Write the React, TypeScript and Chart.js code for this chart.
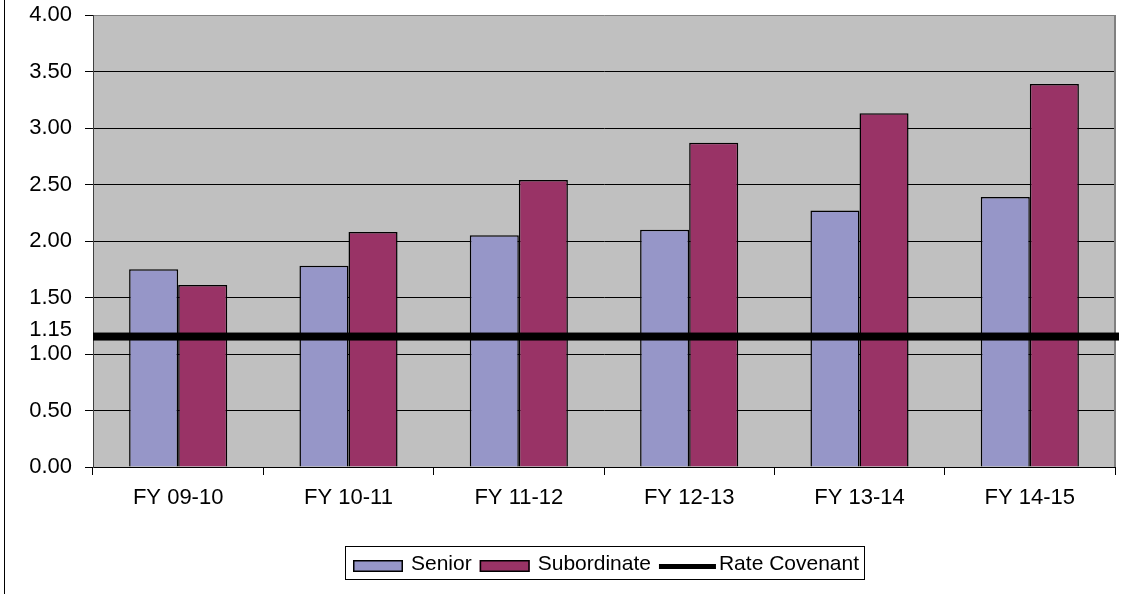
import { useEffect, useRef } from "react";
import { Chart, registerables } from "chart.js";

Chart.register(...registerables);

const categories = ["FY 09-10", "FY 10-11", "FY 11-12", "FY 12-13", "FY 13-14", "FY 14-15"];
const seniorValues = [1.75, 1.78, 2.05, 2.10, 2.27, 2.39];
const subordinateValues = [1.61, 2.08, 2.54, 2.87, 3.13, 3.39];
const rateCovenant = 1.15;
const yTickValues = [0, 0.5, 1.0, 1.15, 1.5, 2.0, 2.5, 3.0, 3.5, 4.0];
const seriesLabels = ["Senior", "Subordinate", "Rate Covenant"];
const seriesColors = ["#9696C8", "#993366", "#000000"];

const FONT_FAMILY = '"Liberation Sans", Arial, sans-serif';
const AXIS_FONT_SIZE = 22;
const LEGEND_FONT_SIZE = 21;
const Y_TICK_LEN = 8;
const Y_TICK_PAD = 13;

const plotBackground = {
  id: "plotBackground",
  beforeDraw(chart: any) {
    const { ctx, chartArea } = chart;
    ctx.save();
    ctx.fillStyle = "#ffffff";
    ctx.fillRect(0, 0, chart.width, chart.height);
    ctx.fillStyle = "#C0C0C0";
    ctx.fillRect(chartArea.left, chartArea.top, chartArea.right - chartArea.left, chartArea.bottom - chartArea.top);
    ctx.restore();
  },
  beforeDatasetsDraw(chart: any) {
    const { ctx, chartArea } = chart;
    ctx.save();
    ctx.strokeStyle = "#808080";
    ctx.lineWidth = 2;
    ctx.beginPath();
    ctx.moveTo(chartArea.right, chartArea.top);
    ctx.lineTo(chartArea.right, chartArea.bottom);
    ctx.stroke();
    ctx.restore();
  },
  afterDraw(chart: any) {
    const { ctx } = chart;
    ctx.save();
    ctx.strokeStyle = "#000000";
    ctx.lineWidth = 1;
    ctx.beginPath();
    ctx.moveTo(4.5, 0);
    ctx.lineTo(4.5, chart.height);
    ctx.stroke();
    ctx.restore();
  },
};

const covenantLine = {
  id: "covenantLine",
  afterDatasetsDraw(chart: any) {
    const { ctx, chartArea, scales } = chart;
    const y = scales.y.getPixelForValue(rateCovenant);
    ctx.save();
    ctx.fillStyle = seriesColors[2];
    ctx.fillRect(chartArea.left, y - 4.5, chartArea.right + 4 - chartArea.left, 8);
    // covenant tick label, lifted slightly to avoid the 1.00 label
    ctx.font = `${AXIS_FONT_SIZE}px ${FONT_FAMILY}`;
    ctx.fillStyle = "#000000";
    ctx.textAlign = "right";
    ctx.textBaseline = "middle";
    ctx.fillText(rateCovenant.toFixed(2), chartArea.left - Y_TICK_LEN - Y_TICK_PAD, y - 7);
    ctx.restore();
  },
};

const boxLegend = {
  id: "boxLegend",
  afterDraw(chart: any) {
    const { ctx, chartArea } = chart;
    ctx.save();
    ctx.font = `${LEGEND_FONT_SIZE}px ${FONT_FAMILY}`;
    const swW = 50;
    const lineW = 57;
    const items = seriesLabels.map((label, i) => ({
      label,
      isLine: i === 2,
      color: seriesColors[i],
      textW: ctx.measureText(label).width,
    }));
    const gapAfter = (it: any) => (it.isLine ? 3 : 8);
    const gapItem = 8;
    let total = 0;
    items.forEach((it: any, i: number) => {
      total += (it.isLine ? lineW : swW) + gapAfter(it) + it.textW;
      if (i < items.length - 1) total += gapItem;
    });
    const padL = 8;
    const padR = 5;
    const boxW = Math.round(total + padL + padR);
    const cx = (chartArea.left + chartArea.right) / 2;
    const boxX = Math.round(cx - boxW / 2) + 0.5;
    const boxY = 546.5;
    const boxH = 33;
    ctx.fillStyle = "#ffffff";
    ctx.fillRect(boxX, boxY, boxW, boxH);
    ctx.strokeStyle = "#000000";
    ctx.lineWidth = 1;
    ctx.strokeRect(boxX, boxY, boxW, boxH);
    let x = boxX - 0.5 + padL;
    const midY = boxY + boxH / 2;
    items.forEach((it: any) => {
      if (it.isLine) {
        ctx.fillStyle = it.color;
        ctx.fillRect(x, midY + 1, lineW, 5);
        x += lineW;
      } else {
        ctx.fillStyle = it.color;
        ctx.fillRect(x, midY - 3, swW, 12);
        ctx.strokeStyle = "#000000";
        ctx.lineWidth = 1.5;
        ctx.strokeRect(x + 0.75, midY - 2.25, swW - 1.5, 10.5);
        x += swW;
      }
      x += gapAfter(it);
      ctx.fillStyle = "#000000";
      ctx.textBaseline = "middle";
      ctx.textAlign = "left";
      ctx.fillText(it.label, x, midY + 1);
      x += it.textW + gapItem;
    });
    ctx.restore();
  },
};

export default function App() {
  const canvasRef = useRef<HTMLCanvasElement | null>(null);

  useEffect(() => {
    const canvas = canvasRef.current;
    if (!canvas) return;
    const font = { family: FONT_FAMILY, size: AXIS_FONT_SIZE };
    const chart = new Chart(canvas, {
      type: "bar",
      data: {
        labels: categories,
        datasets: [
          {
            label: seriesLabels[0],
            data: seniorValues,
            backgroundColor: seriesColors[0],
            borderColor: "#000000",
            borderWidth: 1.5,
            categoryPercentage: 0.576,
            barPercentage: 1.0,
          },
          {
            label: seriesLabels[1],
            data: subordinateValues,
            backgroundColor: seriesColors[1],
            borderColor: "#000000",
            borderWidth: 1.5,
            categoryPercentage: 0.576,
            barPercentage: 1.0,
          },
        ],
      },
      options: {
        responsive: false,
        animation: false,
        devicePixelRatio: 1,
        layout: { padding: { left: 0, right: 10, top: 15, bottom: 0 } },
        plugins: {
          legend: { display: false },
          tooltip: { enabled: false },
          title: { display: false },
        },
        scales: {
          x: {
            type: "category",
            grid: {
              offset: true,
              drawOnChartArea: false,
              tickLength: 8,
              color: "#000000",
            },
            border: { color: "#000000", width: 1 },
            ticks: { color: "#000000", font, padding: 10, maxRotation: 0, autoSkip: false },
            afterFit: (scale: any) => {
              scale.height = 594 - 467;
              scale.paddingLeft = 0;
              scale.paddingRight = 0;
            },
          },
          y: {
            min: 0,
            max: 4,
            afterBuildTicks: (scale: any) => {
              scale.ticks = yTickValues.map((v) => ({ value: v }));
            },
            ticks: {
              autoSkip: false,
              padding: Y_TICK_PAD,
              color: "#000000",
              font,
              callback: (v: any) => (Number(v) === rateCovenant ? "" : Number(v).toFixed(2)),
            },
            grid: {
              tickLength: Y_TICK_LEN,
              lineWidth: 1,
              color: (c: any) => {
                const v = c.tick ? c.tick.value : null;
                if (v === rateCovenant) return "rgba(0,0,0,0)";
                if (v === 4) return "#808080";
                return "#000000";
              },
              tickColor: (c: any) => {
                const v = c.tick ? c.tick.value : null;
                if (v === rateCovenant) return "rgba(0,0,0,0)";
                return "#000000";
              },
            },
            border: { color: "#404040", width: 1 },
            afterFit: (scale: any) => {
              scale.width = 93;
              scale.paddingTop = 0;
              scale.paddingBottom = 0;
            },
          },
        },
      },
      plugins: [plotBackground, covenantLine, boxLegend],
    } as any);
    return () => chart.destroy();
  }, []);

  return (
    <canvas
      ref={canvasRef}
      width={1125}
      height={594}
      style={{ position: "absolute", left: 0, top: 0, display: "block", width: 1125, height: 594 }}
    />
  );
}
